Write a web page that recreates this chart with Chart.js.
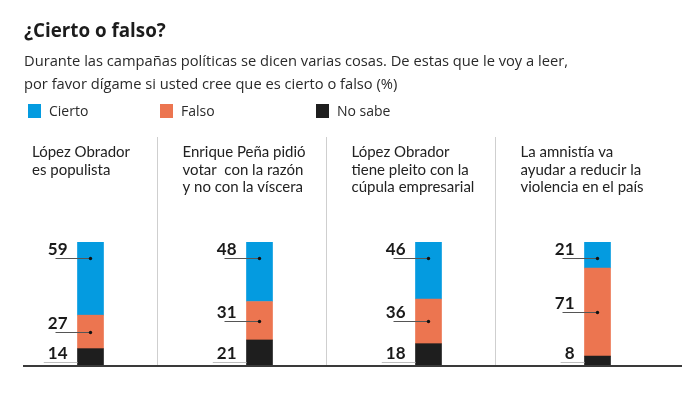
<!DOCTYPE html>
<html>
<head>
<meta charset="utf-8">
<script src="https://cdn.jsdelivr.net/npm/chart.js"></script>
<style>
  html, body { margin: 0; padding: 0; background: #fff; }
  body { width: 692px; height: 395px; position: relative; overflow: hidden; font-family: "Open Sans", Lato, sans-serif; color: #222; }
  #chart { position: absolute; left: 0; top: 0; }
  .title { position: absolute; left: 24px; top: 17px; font-size: 18.8px; font-weight: bold; color: #1c1c1c; }
  .sub { position: absolute; left: 24px; top: 49px; font-size: 14.7px; line-height: 23px; color: #2a2a2a; }
  .leg { position: absolute; top: 101px; font-size: 14px; color: #2a2a2a; }
  .leg span { display: inline-block; width: 13px; height: 14px; vertical-align: -2px; margin-right: 8px; }
</style>
</head>
<body>
<canvas id="chart" width="692" height="395"></canvas>
<div class="title">¿Cierto o falso?</div>
<div class="sub">Durante las campañas políticas se dicen varias cosas. De estas que le voy a leer,<br>por favor dígame si usted cree que es cierto o falso (%)</div>
<div class="leg" style="left:28px"><span style="background:#049be0"></span>Cierto</div>
<div class="leg" style="left:160px"><span style="background:#ec7550"></span>Falso</div>
<div class="leg" style="left:316px"><span style="background:#1e1e1e"></span>No sabe</div>
<script>
// panel titles, one per bar
const categories = [
  ['López Obrador', 'es populista'],
  ['Enrique Peña pidió', 'votar  con la razón', 'y no con la víscera'],
  ['López Obrador', 'tiene pleito con la', 'cúpula empresarial'],
  ['La amnistía va', 'ayudar a reducir la', 'violencia en el país']
];
const cierto = [59, 48, 46, 21];
const falso = [27, 31, 36, 71];
const noSabe = [14, 21, 18, 8];

const colors = { cierto: '#049be0', falso: '#ec7550', noSabe: '#1e1e1e' };

// draws panel titles, separators, baseline and the numbers with leader lines
const panelPlugin = {
  id: 'panels',
  afterDatasetsDraw(chart) {
    const ctx = chart.ctx;
    const x = chart.scales.x;
    const y = chart.scales.y;
    const zero = y.getPixelForValue(0);
    ctx.save();

    // separators + titles
    const centers = categories.map((c, i) => x.getPixelForValue(i));
    ctx.strokeStyle = '#cfcfcf';
    ctx.lineWidth = 1;
    ctx.font = '15px Lato, "Open Sans", sans-serif';
    ctx.fillStyle = '#222';
    ctx.textAlign = 'left';
    ctx.textBaseline = 'alphabetic';
    categories.forEach((lines, i) => {
      let tx = 32;
      if (i > 0) {
        const sx = Math.round((centers[i - 1] + centers[i]) / 2 - 18) + 0.5;
        ctx.beginPath();
        ctx.moveTo(sx, 137);
        ctx.lineTo(sx, zero);
        ctx.stroke();
        tx = sx + 25;
      }
      lines.forEach((l, k) => ctx.fillText(l, tx, 157 + k * 17.5));
    });

    // baseline
    ctx.strokeStyle = '#3a3a3a';
    ctx.lineWidth = 2;
    ctx.beginPath();
    ctx.moveTo(23, zero);
    ctx.lineTo(682, zero);
    ctx.stroke();

    // value labels
    ctx.font = 'bold 17px Lato, "Open Sans", sans-serif';
    ctx.textAlign = 'right';
    chart.data.datasets.forEach((ds, di) => {
      const meta = chart.getDatasetMeta(di);
      meta.data.forEach((bar, j) => {
        const top = Math.min(bar.y, bar.base);
        const bottom = Math.max(bar.y, bar.base);
        const left = bar.x - bar.width / 2;
        const txt = String(ds.data[j]);
        let ly;
        if (ds.label === 'Cierto') ly = top + 16;
        else if (ds.label === 'Falso') ly = (top + bottom) / 2;
        else ly = bottom - 4;
        ly = Math.round(ly) + 0.5;
        ctx.fillStyle = '#1a1a1a';
        ctx.fillText(txt, left - 10, ly - 4);
        ctx.lineWidth = 1;
        if (ds.label === 'No sabe') {
          const tw = ctx.measureText(txt).width;
          ctx.strokeStyle = '#bdbdbd';
          ctx.beginPath();
          ctx.moveTo(Math.min(left - 22, left - 10 - tw - 4), ly);
          ctx.lineTo(left, ly);
          ctx.stroke();
        } else {
          ctx.strokeStyle = '#555';
          ctx.beginPath();
          ctx.moveTo(left - 22, ly);
          ctx.lineTo(bar.x, ly);
          ctx.stroke();
          ctx.fillStyle = '#111';
          ctx.beginPath();
          ctx.arc(bar.x, ly, 1.7, 0, Math.PI * 2);
          ctx.fill();
        }
      });
    });
    ctx.restore();
  }
};

new Chart(document.getElementById('chart'), {
  type: 'bar',
  data: {
    labels: categories,
    datasets: [
      { label: 'No sabe', data: noSabe, backgroundColor: colors.noSabe },
      { label: 'Falso', data: falso, backgroundColor: colors.falso },
      { label: 'Cierto', data: cierto, backgroundColor: colors.cierto }
    ]
  },
  options: {
    responsive: false,
    animation: false,
    layout: { padding: { top: 242, bottom: 29, left: 6, right: 10 } },
    datasets: { bar: { barThickness: 26, borderWidth: 0 } },
    plugins: { legend: { display: false }, tooltip: { enabled: false } },
    scales: {
      x: { display: false, stacked: true },
      y: { display: false, stacked: true, min: 0, max: 100 }
    }
  },
  plugins: [panelPlugin]
});
</script>
</body>
</html>
